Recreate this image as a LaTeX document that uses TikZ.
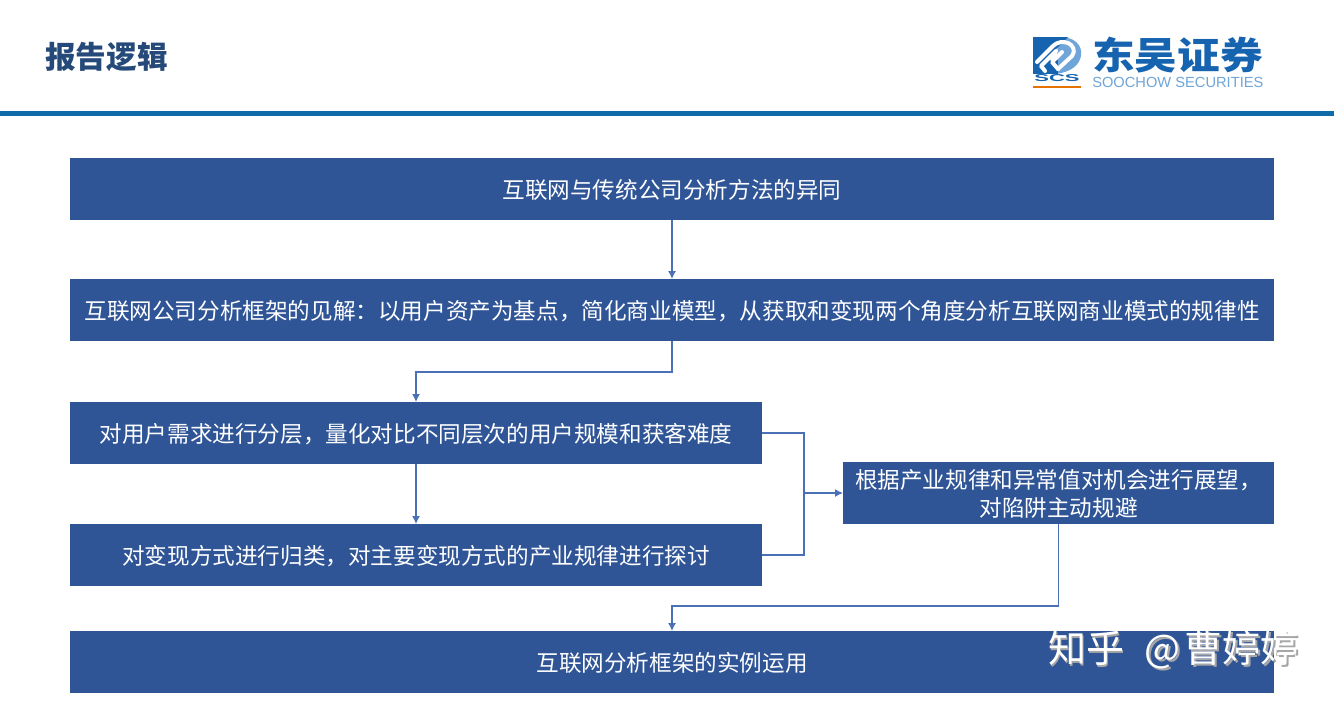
\documentclass[tikz,border=0pt]{standalone}
\usepackage{fontspec}
\setmainfont{Noto Sans CJK SC}
\newfontfamily\latinfont{Liberation Sans}
\usetikzlibrary{positioning,arrows.meta}
\definecolor{boxblue}{HTML}{2F5597}
\definecolor{linkblue}{HTML}{4A70B5}
\definecolor{rulerblue}{HTML}{0F6CA8}
\definecolor{titleblue}{HTML}{254A7A}
\definecolor{logoblue}{HTML}{1664B0}
\definecolor{logolight}{HTML}{6FA5D8}
\tikzset{
	widebox/.style={
		rectangle, fill=boxblue, text=white, inner sep=0pt, outer sep=0pt,
		minimum width=903pt, minimum height=46.5pt, font=\fontsize{16.95pt}{21pt}\selectfont,
		text height=13.6pt, text depth=0pt
	},
	halfbox/.style={widebox, minimum width=519pt},
	sidebox/.style={widebox, minimum width=323.25pt, align=center, text height=35.3pt},
	link/.style={line width=1pt, draw=linkblue, -{Latex[length=6pt,width=6pt]}},
	joint/.style={line width=1pt, draw=linkblue},
	chainline/.style={white, line width=3pt, line cap=round, line join=round}
}
\begin{document}
\begin{tikzpicture}[x=0.75pt,y=-0.75pt]
				\useasboundingbox (0,0) rectangle (1334,704);
				\fill[white] (0,0) rectangle (1334,704);
				\fill[rulerblue] (0,111) rectangle (1334,116);
				\node[font=\bfseries\fontsize{23pt}{27pt}\selectfont, text=titleblue, anchor=west, inner sep=0pt] (title) at (45,57) {报告逻辑};
				% logo
				\fill[logolight] (1058,38) .. controls (1074,35) and (1083,46) .. (1081,56) .. controls (1079,66) and (1070,72) .. (1056,74) -- cycle;
				\fill[logoblue] (1033,37) -- (1068,37) -- (1033,72) -- cycle;
				\fill[logoblue] (1033,74) -- (1033,60) -- (1058,60) -- (1058,74) -- cycle;
				\draw[chainline] (1037,62) -- (1053,46) .. controls (1057,42) and (1063,41) .. (1068,43);
				\draw[chainline] (1045,71) -- (1041,66) -- (1056,51);
				\draw[chainline] (1058,69) -- (1072,56) .. controls (1076,51) and (1073,45) .. (1068,43);
				\draw[chainline] (1058,69) -- (1052,62) -- (1062,52);
				\node[font=\latinfont\bfseries\fontsize{7.5pt}{8pt}\selectfont, text=logoblue, inner sep=0pt, transform shape, xscale=2.2] (scs) at (1057,78) {SCS};
				\fill[orange!90!black] (1033,86) rectangle (1081,88);
				\node[font=\bfseries\fontsize{32pt}{34pt}\selectfont, text=logoblue, anchor=west, inner sep=0pt, transform shape, yscale=0.88] (brand) at (1092,55) {东吴证券};
				\node[font=\latinfont\fontsize{11pt}{12pt}\selectfont, text=logolight, anchor=west, inner sep=0pt] (brandsub) at (1092,82) {SOOCHOW SECURITIES};
				% boxes
				\node[widebox] (compare) at (672,189) {互联网与传统公司分析方法的异同};
				\node[widebox, below=44.25pt of compare] (view) {互联网公司分析框架的见解：以用户资产为基点，简化商业模型，从获取和变现两个角度分析互联网商业模式的规律性};
				\node[halfbox] (users) at (416,433) {对用户需求进行分层，量化对比不同层次的用户规模和获客难度};
				\node[halfbox, below=45pt of users] (monetize) {对变现方式进行归类，对主要变现方式的产业规律进行探讨};
				\node[sidebox] (outlook) at (1058.5,493) {根据产业规律和异常值对机会进行展望，\\对陷阱主动规避};
				\node[widebox] (cases) at (672,662) {互联网分析框架的实例运用};
				\coordinate (merge) at (804,493);
				% connectors
				\draw[link] (compare) -- (view);
				\draw[link] (view.south) -- ++(0,31) -| (users.north);
				\draw[link] (users) -- (monetize);
				\draw[joint] (users.east) -| (merge);
				\draw[joint] (monetize.east) -| (merge);
				\draw[link] (merge) -- (outlook.west);
				\draw[link] (outlook.south) -- ++(0,82) -| (cases.north);
				% watermark
				\node[font=\fontsize{28.5pt}{30pt}\selectfont, text=black!35, anchor=west, inner sep=0pt] (markshadow) at (1049.5,651.5) {知乎\hspace{9pt} @\hspace{3pt}曹婷婷};
				\node[font=\fontsize{28.5pt}{30pt}\selectfont, text=white, anchor=west, inner sep=0pt] (mark) at (1048,650) {知乎\hspace{9pt} @\hspace{3pt}曹婷婷};
			\end{tikzpicture}
\end{document}
